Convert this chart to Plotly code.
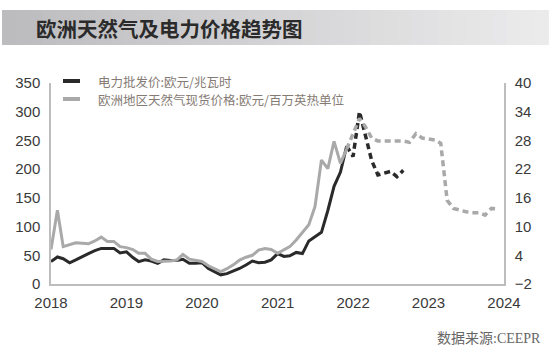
import plotly.graph_objects as go
import pandas as pd

# Monthly wholesale electricity price, EUR/MWh (Jan 2018 - Dec 2021, actual)
power_actual = [39, 47, 44, 37, 42, 48, 53, 58, 62, 62, 62, 54,
                56, 46, 39, 42, 40, 36, 42, 41, 41, 43, 36, 36,
                37, 27, 22, 16, 18, 22, 27, 33, 40, 37, 38, 42,
                53, 48, 49, 55, 53, 75, 83, 90, 128, 170, 195, 240]
# Electricity forward curve (Dec 2021 - Sep 2022)
power_forecast = [240, 222, 300, 262, 215, 190, 193, 196, 187, 198]

# European spot gas price, EUR/MMBtu (Jan 2018 - Dec 2021, actual)
gas_actual = [5.2, 13.4, 5.8, 6.2, 6.6, 6.5, 6.4, 7.0, 7.8, 6.9, 6.9, 5.8,
              5.6, 5.2, 4.4, 4.4, 3.2, 2.7, 2.7, 2.8, 3.0, 4.2, 3.2, 3.0,
              2.7, 1.8, 1.2, 0.6, 1.2, 2.0, 3.0, 3.6, 4.0, 5.1, 5.4, 5.2,
              4.4, 5.2, 5.8, 7.2, 8.9, 10.4, 14.2, 23.9, 22.1, 27.8, 23.2, 26.2]
# Gas forward curve (Dec 2021 - Dec 2023)
gas_forecast = [26.2, 29.5, 32.6, 30.9, 28.5, 27.9, 27.9, 27.9, 27.9, 27.9,
                27.6, 29.4, 28.5, 28.3, 28.1, 27.4, 15.5, 13.8, 13.4, 13.1,
                12.9, 12.9, 12.4, 13.8, 13.7]

power_name = "电力批发价:欧元/兆瓦时"
gas_name = "欧洲地区天然气现货价格:欧元/百万英热单位"
title_text = "欧洲天然气及电力价格趋势图"
source_text = "数据来源:CEEPR"

left_ticks = [0, 50, 100, 150, 200, 250, 300, 350]
right_ticks = [-2, 4, 10, 16, 22, 28, 34, 40]
year_ticks = [f"{y}-01-01" for y in range(2018, 2025)]
year_labels = [str(y) for y in range(2018, 2025)]

actual_dates = pd.date_range("2018-01-01", periods=len(power_actual), freq="MS")
power_fc_dates = pd.date_range("2021-12-01", periods=len(power_forecast), freq="MS")
gas_fc_dates = pd.date_range("2021-12-01", periods=len(gas_forecast), freq="MS")

BLACK = "#2a2a2a"
GREY = "#a9a9a9"

fig = go.Figure()
fig.add_trace(go.Scatter(x=gas_fc_dates, y=gas_forecast, yaxis="y2", mode="lines",
                         line=dict(color=GREY, width=3.5, dash="6px,4px"), showlegend=False))
fig.add_trace(go.Scatter(x=actual_dates, y=gas_actual, yaxis="y2", mode="lines",
                         line=dict(color=GREY, width=3), name=gas_name, showlegend=False))
fig.add_trace(go.Scatter(x=power_fc_dates, y=power_forecast, mode="lines",
                         line=dict(color=BLACK, width=3.5, dash="6px,4px"), showlegend=False))
fig.add_trace(go.Scatter(x=actual_dates, y=power_actual, mode="lines",
                         line=dict(color=BLACK, width=3), name=power_name, showlegend=False))

# plot area in pixels
L, R, T, B = 51, 504, 83, 284
W, H = 550, 350


def px(x):
    return (x - L) / (R - L)


def py(y):
    return (B - y) / (B - T)


shapes = []
# title band with a soft left-to-right grey gradient
n = 40
x0, x1 = 2, 548
c0, c1 = (188, 188, 191), (235, 235, 236)
for i in range(n):
    f = i / (n - 1)
    c = tuple(int(round(a + (b - a) * f)) for a, b in zip(c0, c1))
    shapes.append(dict(type="rect", xref="paper", yref="paper",
                       x0=px(x0 + (x1 - x0) * i / n), x1=px(x0 + (x1 - x0) * (i + 1) / n) + 0.002,
                       y0=py(45), y1=py(10), line=dict(width=0),
                       fillcolor=f"rgb{c}", layer="below"))
# legend swatches
for yy, col in [(81, BLACK), (99, GREY)]:
    shapes.append(dict(type="line", xref="paper", yref="paper",
                       x0=px(63), x1=px(80), y0=py(yy), y1=py(yy),
                       line=dict(color=col, width=4)))

legend_font = dict(family="Noto Sans CJK SC", size=12.5, color="#857b74")
annotations = [
    dict(text=f"<b>{title_text}</b>", xref="paper", yref="paper", x=px(34), y=py(28),
         xanchor="left", yanchor="middle", showarrow=False,
         font=dict(family="Noto Sans CJK SC", size=20.5, color="#2b2b2b")),
    dict(text=power_name, xref="paper", yref="paper", x=px(96), y=py(81),
         xanchor="left", yanchor="middle", showarrow=False, font=legend_font),
    dict(text=gas_name, xref="paper", yref="paper", x=px(96), y=py(99),
         xanchor="left", yanchor="middle", showarrow=False, font=legend_font),
    dict(text=source_text, xref="paper", yref="paper", x=px(543), y=py(338),
         xanchor="right", yanchor="middle", showarrow=False,
         font=dict(family="Liberation Serif, Noto Sans CJK SC", size=14, color="#666666")),
]

tick_font = dict(family="Liberation Sans, Arial", size=15, color="#3a3a3a")
fig.update_layout(
    width=W, height=H,
    margin=dict(l=L, r=W - R, t=T, b=H - B),
    paper_bgcolor="white", plot_bgcolor="white",
    showlegend=False,
    shapes=shapes, annotations=annotations,
    xaxis=dict(type="date", range=["2018-01-01", "2024-01-01"],
               tickvals=year_ticks, ticktext=year_labels, showgrid=False, zeroline=False,
               showline=True, linecolor="#bdbdbd", linewidth=1.5, ticks="",
               tickfont=tick_font, ticklabelstandoff=4),
    yaxis=dict(range=[0, 350], tickvals=left_ticks, showgrid=False, zeroline=False,
               showline=True, linecolor="#bdbdbd", linewidth=1.5, ticks="",
               tickfont=tick_font, ticklabelstandoff=6),
    yaxis2=dict(range=[-2, 40], tickvals=right_ticks, overlaying="y", side="right",
                showgrid=False, zeroline=False, showline=True, linecolor="#bdbdbd",
                linewidth=1.5, ticks="", tickfont=tick_font, ticklabelstandoff=6,
                tickformat="d"),
)

fig.write_html("out.html")
